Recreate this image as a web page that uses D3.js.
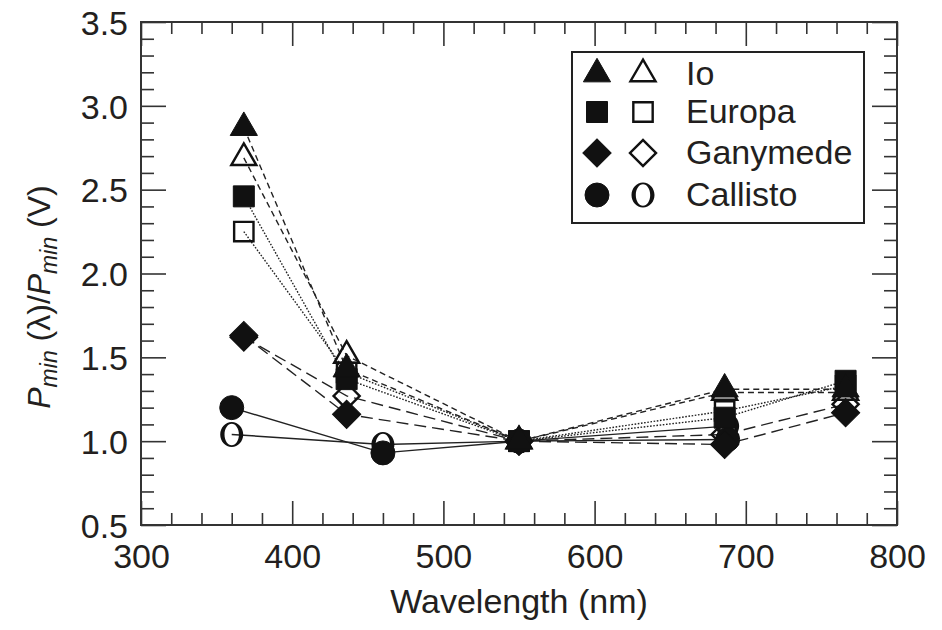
<!DOCTYPE html>
<html>
<head>
<meta charset="utf-8">
<script src="https://cdn.jsdelivr.net/npm/d3@7"></script>
<style>
  html, body { margin: 0; padding: 0; background: #fff; }
  svg { display: block; }
  text { font-family: "Liberation Sans", Arial, Helvetica, sans-serif; fill: #231f20; }
</style>
</head>
<body>
<svg id="chart" width="942" height="630"></svg>
<script>
// Wavelengths (nm) at which each satellite was measured
const waveIoEuGa = [368, 436, 550, 686, 766];
const waveCallisto = [360, 460, 550, 688];

// Normalised minimum polarization Pmin(λ)/Pmin(V); filled and open symbols
const ioFilled = [2.87, 1.43, 1.00, 1.31, 1.31];
const ioOpen = [2.69, 1.51, 1.00, 1.29, 1.29];
const europaFilled = [2.46, 1.37, 1.00, 1.14, 1.36];
const europaOpen = [2.25, 1.41, 1.00, 1.18, 1.33];
const ganymedeFilled = [1.63, 1.16, 1.00, 0.98, 1.17];
const ganymedeOpen = [1.62, 1.27, 1.00, 1.04, 1.22];
const callistoFilled = [1.20, 0.93, 1.00, 1.01];
const callistoOpen = [1.04, 0.98, 1.00, 1.09];

const satellites = ["Io", "Europa", "Ganymede", "Callisto"];
const xMajorTicks = [300, 400, 500, 600, 700, 800];
const yMajorTicks = [0.5, 1.0, 1.5, 2.0, 2.5, 3.0, 3.5];

const svg = d3.select("#chart");
const plotLeft = 141, plotRight = 897, plotTop = 22, plotBottom = 525;

const x = d3.scaleLinear().domain([300, 800]).range([plotLeft, plotRight]);
const y = d3.scaleLinear().domain([0.5, 3.5]).range([plotBottom, plotTop]);

// Marker shapes
const shapes = {
  Io: { type: d3.symbolTriangle, size: 320, rotate: 0 },
  Europa: { type: d3.symbolSquare, size: 441, rotate: 0 },
  Ganymede: { type: d3.symbolSquare, size: 400, rotate: 45 },
  Callisto: { type: d3.symbolCircle, size: 452, rotate: 0 }
};
const dashes = { Io: "6,4", Europa: "1.6,1.6", Ganymede: "12,6", Callisto: null };

// Serif-like "O": thick sides, thin top and bottom
function openO(cx, cy) {
  const ell = (rx, ry) => {
    const k = 0.5523;
    return `M${cx - rx},${cy} C${cx - rx},${cy - ry * k} ${cx - rx * k},${cy - ry} ${cx},${cy - ry}` +
      ` C${cx + rx * k},${cy - ry} ${cx + rx},${cy - ry * k} ${cx + rx},${cy}` +
      ` C${cx + rx},${cy + ry * k} ${cx + rx * k},${cy + ry} ${cx},${cy + ry}` +
      ` C${cx - rx * k},${cy + ry} ${cx - rx},${cy + ry * k} ${cx - rx},${cy}Z`;
  };
  return ell(11.5, 12.5) + " " + ell(7.2, 10.8);
}

function drawMarker(g, name, cx, cy, filled) {
  if (name === "Callisto" && !filled) {
    g.append("path").attr("d", openO(cx, cy))
      .attr("fill", "#111").attr("fill-rule", "evenodd");
    return;
  }
  const s = shapes[name];
  g.append("path")
    .attr("d", d3.symbol().type(s.type).size(filled ? s.size : s.size * 0.85)())
    .attr("transform", `translate(${cx},${cy}) rotate(${s.rotate})`)
    .attr("fill", filled ? "#111" : "none")
    .attr("stroke", "#111")
    .attr("stroke-width", filled ? 1 : 2.4)
    .attr("stroke-linejoin", "miter");
}

// Axes frame: inward ticks on all sides
const xMinor = d3.range(300, 801, 20).filter(v => v % 100 !== 0);
const yMinor = d3.range(5, 36, 1).map(v => v / 10).filter(v => Math.round(v * 10) % 5 !== 0);

function styleAxis(g) {
  g.select(".domain").remove();
  g.selectAll(".tick line").attr("stroke", "#333").attr("stroke-width", 1.6);
}

svg.append("g").attr("transform", `translate(0,${plotBottom})`)
  .call(d3.axisBottom(x).tickValues(xMajorTicks).tickSize(-24).tickFormat(d3.format("d")))
  .call(styleAxis)
  .call(g => g.selectAll(".tick text").attr("y", 19).attr("dy", "0.71em")
    .style("font-size", "34px").attr("fill", "#231f20"));
svg.append("g").attr("transform", `translate(0,${plotBottom})`)
  .call(d3.axisBottom(x).tickValues(xMinor).tickSize(-12).tickFormat(""))
  .call(styleAxis);
svg.append("g").attr("transform", `translate(0,${plotTop})`)
  .call(d3.axisTop(x).tickValues(xMajorTicks).tickSize(-24).tickFormat(""))
  .call(styleAxis);
svg.append("g").attr("transform", `translate(0,${plotTop})`)
  .call(d3.axisTop(x).tickValues(xMinor).tickSize(-12).tickFormat(""))
  .call(styleAxis);

svg.append("g").attr("transform", `translate(${plotLeft},0)`)
  .call(d3.axisLeft(y).tickValues(yMajorTicks).tickSize(-25).tickFormat(d3.format(".1f")))
  .call(styleAxis)
  .call(g => g.selectAll(".tick text").attr("x", -13).attr("dy", "0.36em")
    .style("font-size", "34px").attr("fill", "#231f20"));
svg.append("g").attr("transform", `translate(${plotLeft},0)`)
  .call(d3.axisLeft(y).tickValues(yMinor).tickSize(-13).tickFormat(""))
  .call(styleAxis);
svg.append("g").attr("transform", `translate(${plotRight},0)`)
  .call(d3.axisRight(y).tickValues(yMajorTicks).tickSize(-25).tickFormat(""))
  .call(styleAxis);
svg.append("g").attr("transform", `translate(${plotRight},0)`)
  .call(d3.axisRight(y).tickValues(yMinor).tickSize(-13).tickFormat(""))
  .call(styleAxis);

svg.append("rect")
  .attr("x", plotLeft).attr("y", plotTop)
  .attr("width", plotRight - plotLeft).attr("height", plotBottom - plotTop)
  .attr("fill", "none").attr("stroke", "#333").attr("stroke-width", 2);

// Series
const series = [
  { name: "Io", filled: true, w: waveIoEuGa, v: ioFilled },
  { name: "Io", filled: false, w: waveIoEuGa, v: ioOpen },
  { name: "Europa", filled: true, w: waveIoEuGa, v: europaFilled },
  { name: "Europa", filled: false, w: waveIoEuGa, v: europaOpen },
  { name: "Ganymede", filled: true, w: waveIoEuGa, v: ganymedeFilled },
  { name: "Ganymede", filled: false, w: waveIoEuGa, v: ganymedeOpen },
  { name: "Callisto", filled: true, w: waveCallisto, v: callistoFilled },
  { name: "Callisto", filled: false, w: waveCallisto, v: callistoOpen }
];

const line = d3.line().x(d => x(d[0])).y(d => y(d[1]));
const linesG = svg.append("g");
series.forEach(s => {
  const pts = s.w.map((w, i) => [w, s.v[i]]);
  linesG.append("path")
    .attr("d", line(pts))
    .attr("fill", "none")
    .attr("stroke", "#222")
    .attr("stroke-width", 1.4)
    .attr("stroke-dasharray", dashes[s.name]);
});

const markG = svg.append("g");
// open symbols first, filled symbols on top
[false, true].forEach(f => {
  ["Callisto", "Ganymede", "Europa", "Io"].forEach(n => {
    series.filter(s => s.name === n && s.filled === f).forEach(s => {
      s.w.forEach((w, i) => drawMarker(markG, n, x(w), y(s.v[i]), f));
    });
  });
});

// Legend
const lg = svg.append("g");
lg.append("rect").attr("x", 572).attr("y", 52).attr("width", 292).attr("height", 171)
  .attr("fill", "#fff").attr("stroke", "#222").attr("stroke-width", 2);
const rowY = [74, 112, 153, 195];
satellites.forEach((n, i) => {
  drawMarker(lg, n, 597, rowY[i], true);
  drawMarker(lg, n, 643, rowY[i], false);
  lg.append("text").attr("x", 686).attr("y", rowY[i] + 11)
    .style("font-size", "34px").text(n);
});

// Axis titles
svg.append("text")
  .attr("x", (plotLeft + plotRight) / 2).attr("y", 613)
  .attr("text-anchor", "middle")
  .style("font-size", "34px")
  .text("Wavelength (nm)");

const yt = svg.append("text")
  .attr("transform", "translate(50,297) rotate(-90)")
  .attr("text-anchor", "middle")
  .style("font-size", "32px");
yt.append("tspan").style("font-style", "italic").text("P");
yt.append("tspan").style("font-style", "italic").style("font-size", "23px").attr("dy", 7).text("min");
yt.append("tspan").attr("dy", -7).text(" (λ)/");
yt.append("tspan").style("font-style", "italic").text("P");
yt.append("tspan").style("font-style", "italic").style("font-size", "23px").attr("dy", 7).text("min");
yt.append("tspan").attr("dy", -7).text(" (V)");
</script>
</body>
</html>
